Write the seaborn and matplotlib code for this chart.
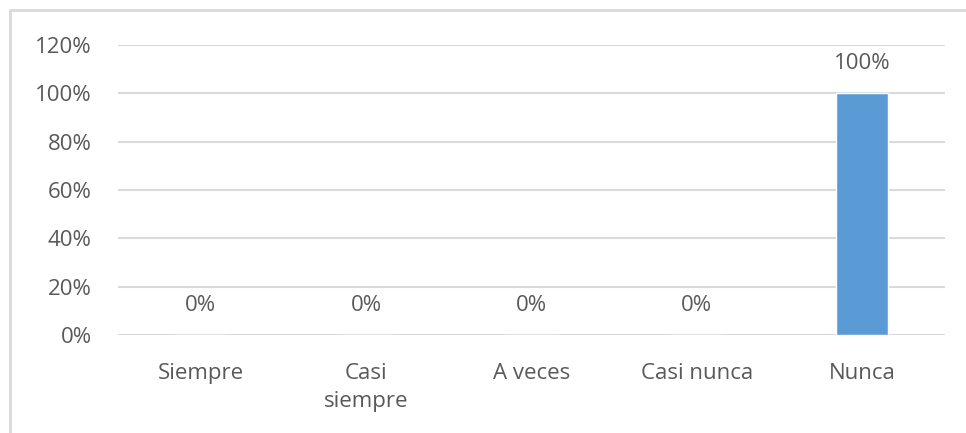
import matplotlib
matplotlib.use("Agg")
import matplotlib.pyplot as plt
import seaborn as sns
from matplotlib.lines import Line2D
from matplotlib.ticker import FuncFormatter

categories = ["Siempre", "Casi\nsiempre", "A veces", "Casi nunca", "Nunca"]
values = [0.0, 0.0, 0.0, 0.0, 1.0]
value_labels = ["0%", "0%", "0%", "0%", "100%"]
yticks = [0.0, 0.2, 0.4, 0.6, 0.8, 1.0, 1.2]

sns.set_theme(style="white")
plt.rcParams["font.family"] = ["Open Sans", "DejaVu Sans"]
text_color = "#595959"
grid_color = "#D9D9D9"
bar_color = "#5B9BD5"
fs = 16

fig = plt.figure(figsize=(9.66, 4.33), dpi=100)
ax = fig.add_axes([118/966, 1-335/433, (945-118)/966, (335-45)/433])

sns.barplot(x=categories, y=values, color=bar_color, width=0.315, saturation=1, ax=ax)

ax.set_ylim(0, 1.2)
ax.set_xlim(-0.5, len(categories) - 0.5)
ax.set_yticks(yticks)
ax.yaxis.set_major_formatter(FuncFormatter(lambda v, p: f"{v*100:.0f}%"))
ax.set_axisbelow(True)
ax.grid(axis="y", color=grid_color, linewidth=1.5)
for s in ax.spines.values():
    s.set_visible(False)
ax.tick_params(axis="y", length=0, pad=19, labelsize=fs, labelcolor=text_color)
ax.tick_params(axis="x", length=0, pad=20, labelsize=fs, labelcolor=text_color)
for t in ax.get_xticklabels():
    t.set_linespacing(1.45)
ax.set_xlabel("")
ax.set_ylabel("")

for i, (v, lab) in enumerate(zip(values, value_labels)):
    ax.annotate(lab, xy=(i, v), xytext=(0, 21.5), textcoords="offset points",
                ha="center", va="center", fontsize=fs, color=text_color)

fig.add_artist(Line2D([10/966, 10/966, 1.0], [0.0, 1-10/433, 1-10/433],
                      transform=fig.transFigure, color=grid_color, linewidth=2))

fig.savefig("out.png", dpi=100, facecolor="white")
